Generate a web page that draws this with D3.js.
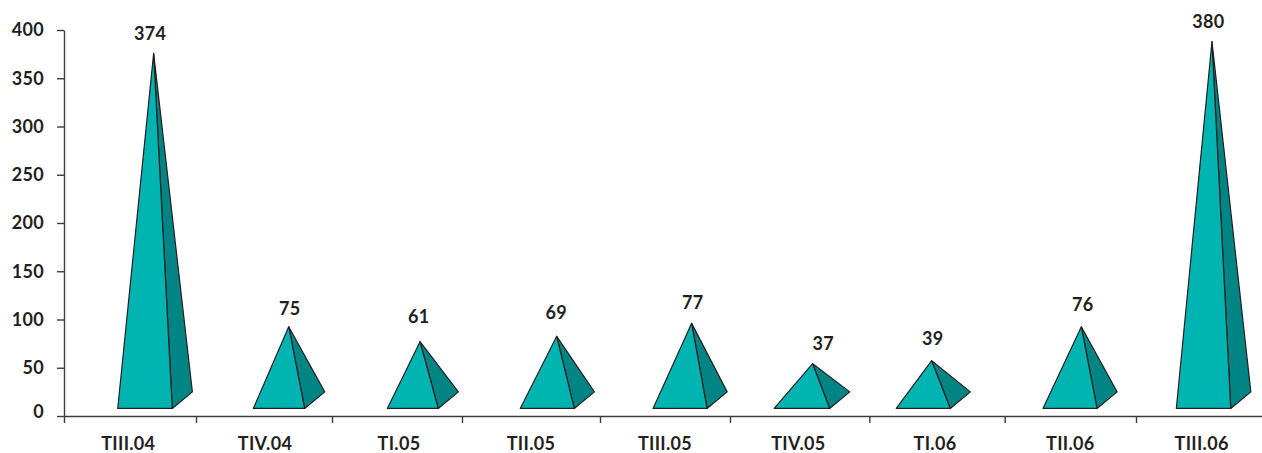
<!DOCTYPE html>
<meta charset="utf-8">
<style>

body {
  margin: 0;
  background: #fff;
}

text {
  font-family: Lato, sans-serif;
  font-weight: 700;
  font-size: 18px;
  letter-spacing: .3px;
  fill: #231f20;
}

.axis path,
.axis line {
  stroke: #3c3c3e;
  stroke-width: 1.4px;
}

.front {
  fill: #00b4b1;
}

.side {
  fill: #008585;
}

.front,
.side {
  stroke: #231f20;
  stroke-width: 1.2px;
  stroke-linejoin: round;
}

</style>
<body>
<script src="https://cdnjs.cloudflare.com/ajax/libs/d3/7.8.5/d3.min.js"></script>
<script>

var width = 1262,
    height = 453;

var quarters = ["TIII.04", "TIV.04", "TI.05", "TII.05", "TIII.05", "TIV.05", "TI.06", "TII.06", "TIII.06"];
var values = [374, 75, 61, 69, 77, 37, 39, 76, 380];
var yTicks = [0, 50, 100, 150, 200, 250, 300, 350, 400];

// the pyramids don't follow the axis exactly, so these are read off the picture
// heights in axis units, horizontal readings in category widths
var apexValue = [375.8, 92.5, 77, 82.6, 96, 54.2, 57.3, 92.5, 388];
var apexSlot = [0.669, 1.677, 2.657, 3.677, 4.684, 5.587, 6.475, 7.592, 8.567];
var baseLeft = [0.401, 1.413, 2.413, 3.405, 4.396, 5.3, 6.211, 7.306, 8.301];
var baseRight = [0.808, 1.796, 2.793, 3.808, 4.799, 5.714, 6.614, 7.709, 8.707];
var labelValue = [389.6, 104.7, 96.4, 101, 110.6, 68.4, 73.6, 108.8, 402];
var labelSlot = [0.642, 1.684, 2.647, 3.674, 4.692, 5.666, 6.483, 7.602, 8.54];
var quarterSlot = [0.48, 1.5, 2.5, 3.485, 4.485, 5.48, 6.5, 7.51, 8.49];
var tickSlots = [0, 0.985, 2, 2.97, 4, 4.97, 6.01, 7.02, 8];

var baseLevel = 7.8,
    backLevel = 25,
    depth = 0.15;

var x = d3.scaleLinear()
    .domain([0, 9])
    .range([64, 1270]);

var y = d3.scaleLinear()
    .domain([0, 400])
    .range([416, 30]);

var svg = d3.select("body").append("svg")
    .attr("width", width)
    .attr("height", height)
    .style("display", "block");

var line = d3.line()
    .x(function(d) { return x(d[0]); })
    .y(function(d) { return y(d[1]); });

var pyramids = svg.selectAll(".pyramid")
    .data(quarters)
  .enter().append("g")
    .attr("class", "pyramid");

pyramids.append("path")
    .attr("class", "side")
    .attr("d", function(d, i) {
      return line([
        [apexSlot[i], apexValue[i]],
        [baseRight[i] + depth, backLevel],
        [baseRight[i], baseLevel]
      ]) + "Z";
    });

pyramids.append("path")
    .attr("class", "front")
    .attr("d", function(d, i) {
      return line([
        [apexSlot[i], apexValue[i]],
        [baseLeft[i], baseLevel],
        [baseRight[i], baseLevel]
      ]) + "Z";
    });

pyramids.append("text")
    .attr("x", function(d, i) { return x(labelSlot[i]); })
    .attr("y", function(d, i) { return y(labelValue[i]); })
    .attr("text-anchor", "middle")
    .text(function(d, i) { return values[i]; });

var yAxis = svg.append("g")
    .attr("class", "axis")
    .attr("transform", "translate(64,0)")
    .call(d3.axisLeft(y)
      .tickValues(yTicks)
      .tickSize(7)
      .tickSizeOuter(0)
      .tickPadding(13));

// the zero label sits a little above its tick in the original
yAxis.selectAll(".tick text")
    .filter(function(d) { return d === 0; })
    .attr("dy", "0.1em");

var xAxis = svg.append("g")
    .attr("class", "axis")
    .attr("transform", "translate(0,416)")
    .call(d3.axisBottom(x)
      .tickValues(tickSlots)
      .tickSize(7)
      .tickSizeOuter(0)
      .tickFormat(""));

svg.selectAll(".quarter")
    .data(quarters)
  .enter().append("text")
    .attr("class", "quarter")
    .attr("x", function(d, i) { return x(quarterSlot[i]); })
    .attr("y", 450)
    .attr("text-anchor", "middle")
    .text(function(d) { return d; });

</script>
